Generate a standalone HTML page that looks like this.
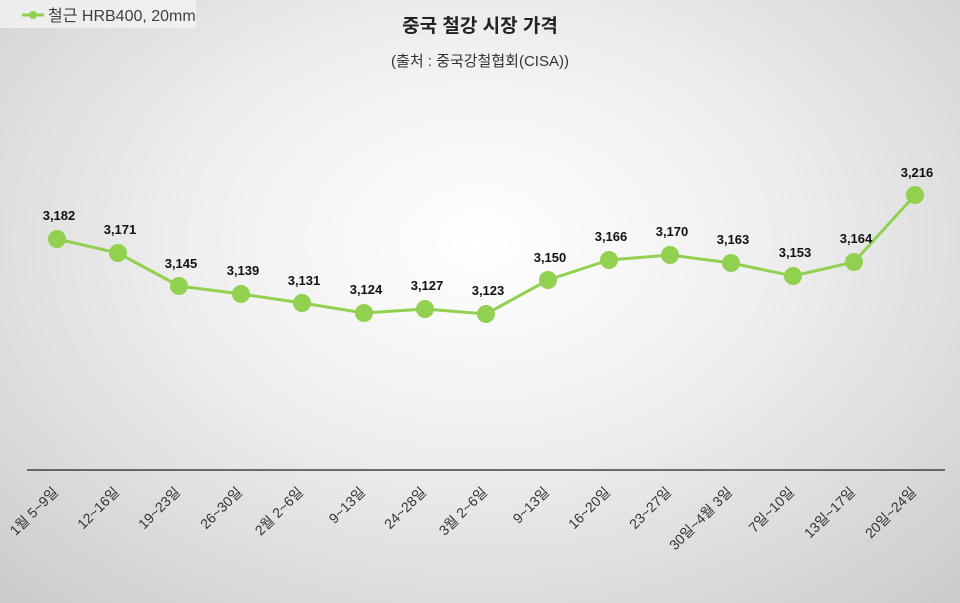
<!DOCTYPE html>
<html><head><meta charset="utf-8"><style>
body{margin:0;width:960px;height:603px;overflow:hidden}
.bg{position:absolute;left:0;top:0;width:960px;height:603px;background:radial-gradient(ellipse 75% 85% at 50% 40%,#ffffff 0%,#efefef 40%,#d6d6d6 80%,#c9c9c9 100%)}
svg{position:absolute;left:0;top:0}
text{font-family:"Liberation Sans","Noto Sans CJK KR",sans-serif}
</style></head><body><div class="bg"></div>
<svg width="960" height="603">
<rect x="0" y="0" width="196" height="28" fill="#f3f3f3" opacity="0.8"/>
<line x1="22" y1="15" x2="44" y2="15" stroke="#92d050" stroke-width="3"/>
<circle cx="33" cy="15" r="4" fill="#92d050"/>
<text x="48" y="21" font-size="16" fill="#404040">철근 HRB400, 20mm</text>
<text x="480" y="32" font-size="19" font-weight="bold" text-anchor="middle" fill="#222">중국 철강 시장 가격</text>
<text x="480" y="66" font-size="15" text-anchor="middle" fill="#333">(출처 : 중국강철협회(CISA))</text>
<line x1="27" y1="470" x2="945" y2="470" stroke="#404040" stroke-width="1.5"/>
<polyline fill="none" stroke="#92d050" stroke-width="3" points="57,239 118,253 179,286 241,294 302,303 364,313 425,309 486,314 548,280 609,260 670,255 731,263 793,276 854,262 915,195"/>
<g fill="#92d050">
<circle cx="57" cy="239" r="9"/><circle cx="118" cy="253" r="9"/><circle cx="179" cy="286" r="9"/><circle cx="241" cy="294" r="9"/><circle cx="302" cy="303" r="9"/><circle cx="364" cy="313" r="9"/><circle cx="425" cy="309" r="9"/><circle cx="486" cy="314" r="9"/><circle cx="548" cy="280" r="9"/><circle cx="609" cy="260" r="9"/><circle cx="670" cy="255" r="9"/><circle cx="731" cy="263" r="9"/><circle cx="793" cy="276" r="9"/><circle cx="854" cy="262" r="9"/><circle cx="915" cy="195" r="9"/>
</g>
<g font-size="13" font-weight="bold" fill="#111" text-anchor="middle">
<text x="59" y="220">3,182</text><text x="120" y="234">3,171</text><text x="181" y="268">3,145</text><text x="243" y="275">3,139</text><text x="304" y="285">3,131</text><text x="366" y="294">3,124</text><text x="427" y="290">3,127</text><text x="488" y="295">3,123</text><text x="550" y="262">3,150</text><text x="611" y="241">3,166</text><text x="672" y="236">3,170</text><text x="733" y="244">3,163</text><text x="795" y="257">3,153</text><text x="856" y="243">3,164</text><text x="917" y="177">3,216</text>
</g>
<g font-size="14" fill="#333" text-anchor="end">
<text transform="translate(59,493) rotate(-45)">1월 5~9일</text>
<text transform="translate(120,493) rotate(-45)">12~16일</text>
<text transform="translate(181,493) rotate(-45)">19~23일</text>
<text transform="translate(243,493) rotate(-45)">26~30일</text>
<text transform="translate(304,493) rotate(-45)">2월 2~6일</text>
<text transform="translate(366,493) rotate(-45)">9~13일</text>
<text transform="translate(427,493) rotate(-45)">24~28일</text>
<text transform="translate(488,493) rotate(-45)">3월 2~6일</text>
<text transform="translate(550,493) rotate(-45)">9~13일</text>
<text transform="translate(611,493) rotate(-45)">16~20일</text>
<text transform="translate(672,493) rotate(-45)">23~27일</text>
<text transform="translate(733,493) rotate(-45)">30일~4월 3일</text>
<text transform="translate(795,493) rotate(-45)">7일~10일</text>
<text transform="translate(856,493) rotate(-45)">13일~17일</text>
<text transform="translate(917,493) rotate(-45)">20일~24일</text>
</g>
</svg></body></html>
